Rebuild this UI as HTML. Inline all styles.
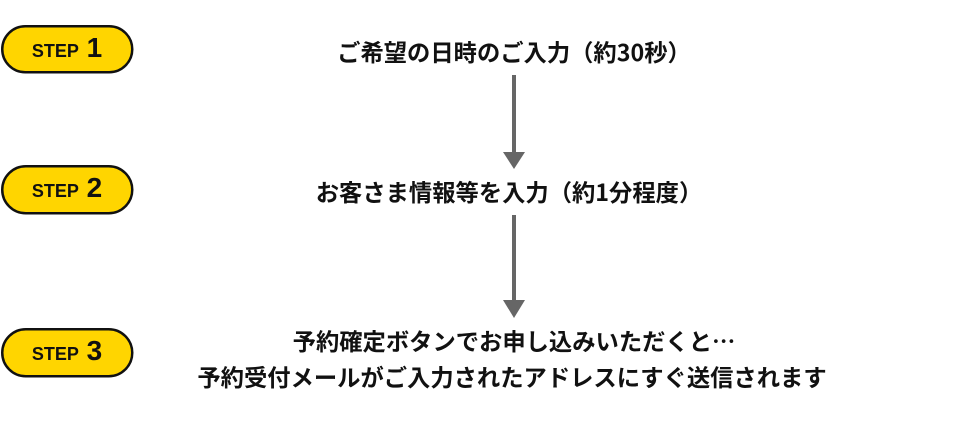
<!DOCTYPE html>
<html><head><meta charset="utf-8"><style>
html,body{margin:0;padding:0;background:#fff;width:960px;height:426px;overflow:hidden;}
svg{display:block;}
text{font-family:"Liberation Sans","Noto Sans CJK JP",sans-serif;font-weight:700;fill:#111;}
.j{font-family:"Noto Sans CJK JP","Liberation Sans",sans-serif;font-size:23.3px;}
</style></head><body>
<svg width="960" height="426" viewBox="0 0 960 426" xmlns="http://www.w3.org/2000/svg">
  <!-- pills -->
  <rect x="2.25" y="26.25" width="130" height="46" rx="23" fill="#FFD500" stroke="#111" stroke-width="2.5"/>
  <rect x="2.25" y="166.25" width="130" height="47" rx="23.5" fill="#FFD500" stroke="#111" stroke-width="2.5"/>
  <rect x="2.25" y="329.25" width="130" height="47" rx="23.5" fill="#FFD500" stroke="#111" stroke-width="2.5"/>
  <text x="67" y="57" text-anchor="middle"><tspan font-size="18">STEP</tspan><tspan font-size="28"> 1</tspan></text>
  <text x="67" y="197" text-anchor="middle"><tspan font-size="18">STEP</tspan><tspan font-size="28"> 2</tspan></text>
  <text x="67" y="360" text-anchor="middle"><tspan font-size="18">STEP</tspan><tspan font-size="28"> 3</tspan></text>

  <!-- arrows -->
  <rect x="512" y="75" width="4" height="78" fill="#666"/>
  <polygon points="503,152 525,152 514,169" fill="#666"/>
  <rect x="512" y="215" width="4" height="86" fill="#666"/>
  <polygon points="503,300 525,300 514,318" fill="#666"/>

  <!-- texts -->
  <text class="j" x="514" y="61" text-anchor="middle">ご希望の日時のご入力（約30秒）</text>
  <text class="j" x="509" y="201" text-anchor="middle">お客さま情報等を入力（約1分程度）</text>
  <text class="j" x="514" y="350" text-anchor="middle">予約確定ボタンでお申し込みいただくと…</text>
  <text class="j" x="512" y="386" text-anchor="middle">予約受付メールがご入力されたアドレスにすぐ送信されます</text>
</svg>
</body></html>
